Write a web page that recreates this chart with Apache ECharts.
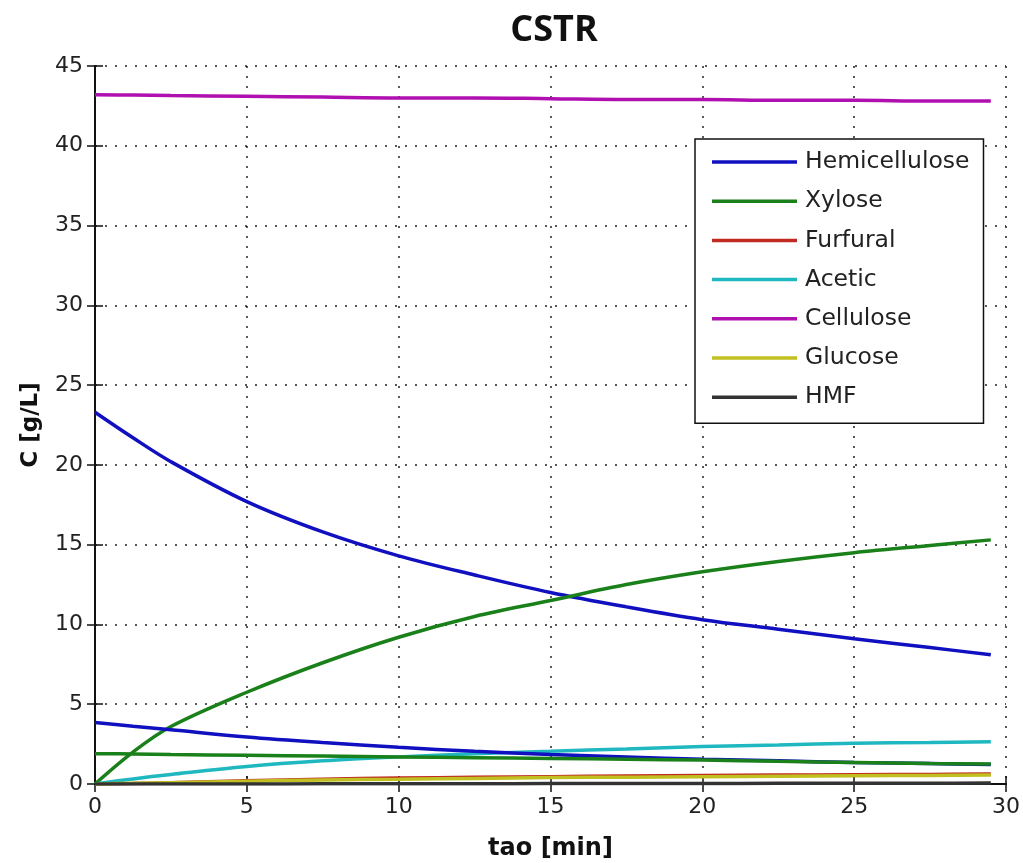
<!DOCTYPE html>
<html>
<head>
<meta charset="utf-8">
<script src="https://cdn.jsdelivr.net/npm/echarts@6/dist/echarts.min.js"></script>
<style>html,body{margin:0;padding:0;background:#fff}#c{width:1023px;height:863px}</style>
</head>
<body>
<div id="c"></div>
<script>
const tau = [0, 1.25, 2.5, 5, 7.5, 10, 12.5, 15, 17.5, 20, 22.5, 25, 27.5, 29.5];
const hemicellulose = [23.3, 21.7, 20.2, 17.7, 15.8, 14.3, 13.1, 12.0, 11.1, 10.3, 9.7, 9.1, 8.55, 8.1];
const xylose = [0, 2.0, 3.6, 5.75, 7.6, 9.2, 10.5, 11.5, 12.5, 13.3, 13.95, 14.5, 14.95, 15.3];
const furfural = [0, 0.03, 0.08, 0.2, 0.3, 0.37, 0.42, 0.46, 0.5, 0.53, 0.56, 0.58, 0.6, 0.62];
const acetic = [0, 0.32, 0.6, 1.1, 1.45, 1.7, 1.9, 2.05, 2.2, 2.35, 2.45, 2.55, 2.6, 2.65];
const cellulose = [43.2, 43.18, 43.15, 43.1, 43.05, 43.0, 43.0, 42.95, 42.9, 42.9, 42.85, 42.85, 42.8, 42.8];
const glucose = [0, 0.04, 0.08, 0.17, 0.25, 0.3, 0.35, 0.4, 0.43, 0.46, 0.49, 0.52, 0.54, 0.56];
const hmf = [0, 0, 0, 0.005, 0.01, 0.015, 0.02, 0.025, 0.03, 0.035, 0.04, 0.045, 0.05, 0.055];
const extraBlue = [3.85, 3.62, 3.4, 2.95, 2.6, 2.3, 2.05, 1.85, 1.7, 1.55, 1.45, 1.35, 1.28, 1.22];
const extraGreen = [1.9, 1.88, 1.85, 1.8, 1.75, 1.7, 1.65, 1.6, 1.55, 1.5, 1.42, 1.35, 1.28, 1.25];

const legendNames = ['Hemicellulose', 'Xylose', 'Furfural', 'Acetic', 'Cellulose', 'Glucose', 'HMF'];
const seriesDefs = [
  ['Hemicellulose', hemicellulose, '#1010c0'],
  ['Xylose', xylose, '#1a801a'],
  ['Furfural', furfural, '#c02a20'],
  ['Acetic', acetic, '#20b8c0'],
  ['Cellulose', cellulose, '#b010b0'],
  ['Glucose', glucose, '#c0c020'],
  ['HMF', hmf, '#333333'],
  ['line8', extraBlue, '#1010c0'],
  ['line9', extraGreen, '#1a801a']
];

const chart = echarts.init(document.getElementById('c'));
const gridLine = {show: true, lineStyle: {color: '#222', width: 1.5, type: [2, 8]}};
const tickFont = {fontFamily: 'DejaVu Sans', fontSize: 22, color: '#222'};
chart.setOption({
  animation: false,
  backgroundColor: '#fff',
  title: {
    text: 'CSTR', left: 549, top: 8, textAlign: 'center',
    textStyle: {fontFamily: 'Open Sans', fontWeight: 'bold', fontSize: 36, color: '#111'}
  },
  grid: {left: 95, right: 17, top: 66, bottom: 79, outerBoundsMode: 'none', containLabel: false},
  legend: {
    data: legendNames,
    orient: 'vertical', left: 695, top: 139,
    padding: [11, 14, 14, 17],
    backgroundColor: '#fff', borderColor: '#111', borderWidth: 1.5,
    icon: 'rect', itemWidth: 85, itemHeight: 3.5, itemGap: 15.2,
    textStyle: {fontFamily: 'DejaVu Sans', fontSize: 23.5, color: '#222', lineHeight: 24, padding: [0, 0, 0, 3]}
  },
  xAxis: [{
    type: 'value', min: 0, max: 30, interval: 5,
    name: 'tao [min]', nameLocation: 'middle', nameGap: 53,
    nameTextStyle: {fontFamily: 'DejaVu Sans', fontWeight: 'bold', fontSize: 24, color: '#111'},
    axisLine: {show: true, lineStyle: {color: '#111', width: 2}},
    axisTick: {show: true, inside: true, length: 8, lineStyle: {color: '#111', width: 1.5}},
    axisLabel: Object.assign({margin: 12}, tickFont),
    splitLine: gridLine
  }, {
    type: 'value', min: 0, max: 30, interval: 5, position: 'top',
    axisLine: {show: true, lineStyle: {color: '#111', width: 2}},
    axisTick: {show: true, inside: true, length: 8, lineStyle: {color: '#111', width: 1.5}},
    axisLabel: {show: false}, splitLine: {show: false}
  }],
  yAxis: [{
    type: 'value', min: 0, max: 45, interval: 5,
    name: 'C [g/L]', nameLocation: 'middle', nameGap: 52,
    nameTextStyle: {fontFamily: 'DejaVu Sans', fontWeight: 'bold', fontSize: 23, color: '#111'},
    axisLine: {show: true, lineStyle: {color: '#111', width: 2}},
    axisTick: {show: true, inside: true, length: 8, lineStyle: {color: '#111', width: 1.5}},
    axisLabel: Object.assign({margin: 12}, tickFont),
    splitLine: gridLine
  }, {
    type: 'value', min: 0, max: 45, interval: 5, position: 'right',
    axisLine: {show: true, lineStyle: {color: '#111', width: 2}},
    axisTick: {show: true, inside: true, length: 8, lineStyle: {color: '#111', width: 1.5}},
    axisLabel: {show: false}, splitLine: {show: false}
  }],
  series: seriesDefs.map(([name, vals, color]) => ({
    name: name, type: 'line', xAxisIndex: 0, yAxisIndex: 0,
    data: tau.map((t, i) => [t, vals[i]]),
    showSymbol: false, symbol: 'none', smooth: 0.35,
    lineStyle: {color: color, width: 3.5}, itemStyle: {color: color}
  }))
});
</script>
</body>
</html>
